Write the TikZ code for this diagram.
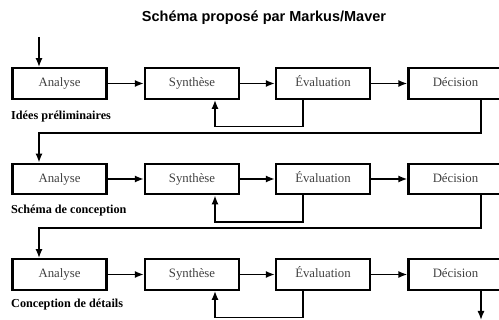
\documentclass[tikz,border=0pt]{standalone}
\usepackage{fontspec}
\setmainfont{Liberation Serif}
\newfontfamily\titlefont{Liberation Sans}
\usetikzlibrary{arrows.meta}
\begin{document}
\begin{tikzpicture}[x=1pt,y=-1pt,
  box/.style={draw, line width=2.4pt, minimum width=94pt, minimum height=30.5pt, inner sep=0pt, text height=9pt, text depth=2.5pt, font=\fontsize{12.8}{14}\selectfont, text=black!75},
  conn/.style={line width=1.4pt},
  arr/.style={conn, -{Latex[length=9pt,width=7pt]}},
  phase/.style={anchor=west, inner sep=0pt, font=\bfseries\fontsize{12.2}{14}\selectfont}
]
\useasboundingbox (0,0) rectangle (499,320);
\node[font=\titlefont\bfseries\fontsize{14.5}{16}\selectfont] (title) at (264,18) {Schéma proposé par Markus/Maver};

% rows
\foreach \r/\y in {1/83.5, 2/179, 3/274.5}{
  \node[box] (A\r) at (59.5,\y) {Analyse};
  \node[box] (S\r) at (192,\y) {Synthèse};
  \node[box] (E\r) at (323,\y) {Évaluation};
  \node[box] (D\r) at (455.5,\y) {Décision};
  \draw[arr] (A\r.east) -- (S\r.west);
  \draw[arr] (S\r.east) -- (E\r.west);
  \draw[arr] (E\r.east) -- (D\r.west);
  \draw[arr] ([xshift=-20pt]E\r.south) -- ++(0,26.5) -| ([xshift=23pt]S\r.south);
}

\node[phase] (L1) at (11,117) {Idées préliminaires};
\node[phase] (L2) at (11,211) {Schéma de conception};
\node[phase] (L3) at (11,305) {Conception de détails};

\coordinate (in) at (39,37);
\draw[arr] (in) -- (in |- A1.north);

\coordinate (t1) at (39,133);
\coordinate (t2) at (39,228);
\draw[arr] ([xshift=25.5pt]D1.south) |- (t1) -- (t1 |- A2.north);
\draw[arr] ([xshift=25.5pt]D2.south) |- (t2) -- (t2 |- A3.north);
\coordinate (out) at (481,320);
\draw[arr] ([xshift=25.5pt]D3.south) -- (out);
\end{tikzpicture}
\end{document}
